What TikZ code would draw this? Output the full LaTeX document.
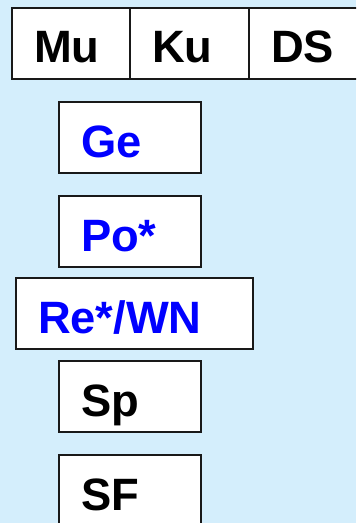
\documentclass[tikz,border=0pt]{standalone}
\usepackage{fontspec}
\setmainfont{Liberation Sans}
\definecolor{bgblue}{RGB}{212,238,252}
\definecolor{lblue}{RGB}{0,0,255}

\begin{document}
\begin{tikzpicture}[
        x=1bp, y=-1bp,
        box/.style={rectangle, draw=black!90, line width=2bp, fill=white,
            anchor=north west, inner xsep=22bp, inner ysep=0pt,
            text height=55bp, text depth=16bp, align=left,
            font=\fontsize{45.5}{45.5}\selectfont\bfseries},
        hilite/.style={text=lblue}
    ]
    \useasboundingbox (0,0) rectangle (356,523);
    \clip (0,0) rectangle (356,523);
    \fill[bgblue] (0,0) rectangle (356,523);

    % Top row
    \node[box, text width=74bp] (mu) at (11,7) {Mu};
    \node[box, text width=75bp] (ku) at (129,7) {Ku};
    \node[box, text width=90bp] (ds) at (248,7) {DS};

    % Column of boxes
    \node[box, hilite, text width=98bp] (ge) at (58,101) {Ge};
    \node[box, hilite, text width=98bp] (po) at (58,195) {Po*};
    \node[box, hilite, text width=193bp] (re) at (15,277) {Re*/WN};
    \node[box, text width=98bp] (sp) at (58,360) {Sp};
    \node[box, text width=98bp] (sf) at (58,454) {SF};

\end{tikzpicture}
\end{document}
